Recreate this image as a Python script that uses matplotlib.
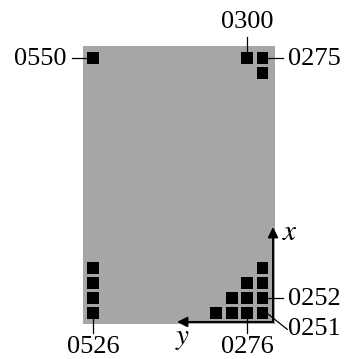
import matplotlib
matplotlib.use("Agg")
import matplotlib.pyplot as plt
from matplotlib.patches import Rectangle

plt.rcParams['font.family'] = ['Liberation Serif', 'DejaVu Serif']
plt.rcParams['mathtext.fontset'] = 'stix'

# occupied cells: x index (upwards), y index (leftwards)
cell_x = [0, 0, 0, 0, 1, 1, 1, 2, 2, 3,
          0, 1, 2, 3,
          24, 23, 24,
          24]
cell_y = [0, 1, 2, 3, 0, 1, 2, 0, 1, 0,
          11, 11, 11, 11,
          0, 0, 1,
          11]

# labelled cells
label_text = ["0550", "0300", "0275", "0526", "0276", "0252", "0251"]
label_x = [24, 24, 24, 0, 0, 1, 0]
label_y = [11, 1, 0, 11, 1, 0, 0]
label_side = ["left", "up", "right", "down", "down", "right", "diag"]

FS = 19
SQ_W, SQ_H = 0.76, 0.78


def row_of(x):
    # the x range is drawn with its middle part squeezed out
    return x if x <= 12 else x - 7


fig = plt.figure(figsize=(3.47, 3.59), dpi=100)
ax = fig.add_axes([0, 0, 1, 1])
ax.set_xlim(17.03, -5.48)
ax.set_ylim(-3.08, 20.85)
ax.axis('off')

# background block
ax.add_patch(Rectangle((-0.8, -0.75), 12.45, 18.55, facecolor='#a6a6a6',
                       edgecolor='none', zorder=0))

for x, y in zip(cell_x, cell_y):
    r = row_of(x)
    ax.add_patch(Rectangle((y - SQ_W / 2, r - SQ_H / 2), SQ_W, SQ_H,
                           facecolor='black', edgecolor='none', zorder=2))

# axes arrows
arrow = dict(arrowstyle='-|>,head_length=0.6,head_width=0.3', color='black',
             lw=1.4, shrinkA=0, shrinkB=0)
ax.annotate('', xy=(-0.68, 5.72), xytext=(-0.68, -0.61), arrowprops=arrow, zorder=3)
ax.annotate('', xy=(5.55, -0.61), xytext=(-0.68, -0.61), arrowprops=arrow, zorder=3)
ax.text(-1.8, 5.32, '$x$', fontsize=21, ha='center', va='center')
ax.text(5.16, -1.72, '$y$', fontsize=21, ha='center', va='center')

# leader lines and labels
for txt, x, y, side in zip(label_text, label_x, label_y, label_side):
    r = row_of(x)
    if side == "left":
        ax.plot([y + SQ_W / 2, y + 1.36], [r, r], color='black', lw=0.9, zorder=3)
        ax.text(y + 1.69, r - 0.48, txt, fontsize=FS, ha='right', va='baseline')
    elif side == "right":
        ax.plot([y - SQ_W / 2, y - 1.33], [r, r], color='black', lw=0.9, zorder=3)
        ax.text(y - 1.67, r - 0.48, txt, fontsize=FS, ha='left', va='baseline')
    elif side == "up":
        ax.plot([y, y], [r + SQ_H / 2, r + 1.39], color='black', lw=0.9, zorder=3)
        ax.text(y, r + 1.97, txt, fontsize=FS, ha='center', va='baseline')
    elif side == "down":
        ax.plot([y, y], [r - SQ_H / 2, r - 1.35], color='black', lw=0.9, zorder=3)
        ax.text(y, r - 2.68, txt, fontsize=FS, ha='center', va='baseline')
    else:
        ax.plot([y - SQ_W / 2, y - 1.6], [r - 0.1, r - 1.1], color='black', lw=0.9, zorder=3)
        ax.text(y - 1.67, r - 1.5, txt, fontsize=FS, ha='left', va='baseline')

fig.savefig('out.png', dpi=100)
